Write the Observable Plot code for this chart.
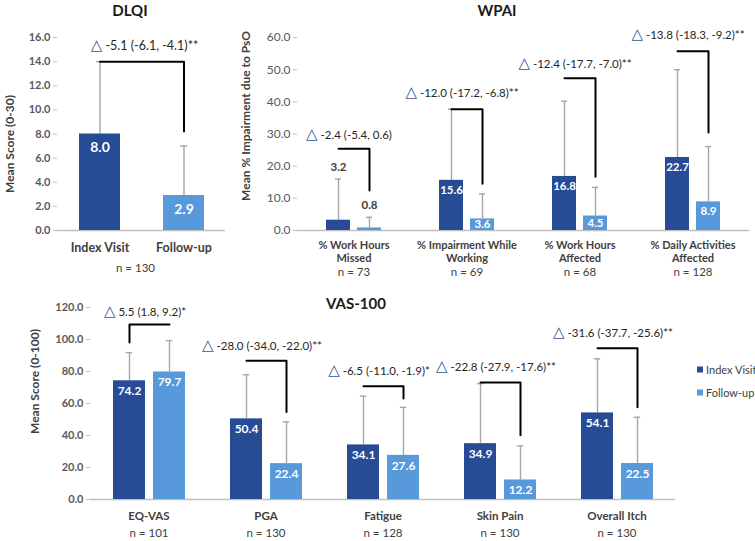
<!DOCTYPE html>
<html><head><meta charset="utf-8">
<script src="https://cdn.jsdelivr.net/npm/d3@7"></script>
<script src="https://cdn.jsdelivr.net/npm/@observablehq/plot@0.6"></script>
<style>
html,body{margin:0;padding:0;background:#fff;}
#chart{position:relative;width:755px;height:541px;overflow:hidden;font-family:Lato,"DejaVu Sans",sans-serif;color:#262626;}
#chart svg{position:absolute;overflow:visible;}
.ttl{position:absolute;font-weight:700;font-size:15px;transform:translate(-50%,-50%);white-space:nowrap;color:#1a1a1a;}
.leg{position:absolute;font-size:11px;color:#404040;display:flex;align-items:center;white-space:nowrap;transform:translateY(-50%);}
.leg i{display:inline-block;width:6px;height:6px;margin-right:3px;}
</style></head><body><div id="chart"></div>
<script>
const seriesNames = ["Index Visit", "Follow-up"];

// ---- DLQI ----
const dlqiGroups = ["DLQI"];
const dlqiIndex = [8.0];
const dlqiIndexErr = [14.0];
const dlqiFollow = [2.9];
const dlqiFollowErr = [7.0];
const dlqiN = ["n = 130"];
const dlqiDelta = ["-5.1 (-6.1, -4.1)**"];
const dlqiDeltaY = [15.3];
const dlqiBracketLeft = [14.0];
const dlqiBracketTop = [14.0];
const dlqiBracketRight = [8.2];
const dlqiTicks = [0, 2, 4, 6, 8, 10, 12, 14, 16];

// ---- WPAI ----
const wpaiGroups = ["% Work Hours Missed", "% Impairment While Working", "% Work Hours Affected", "% Daily Activities Affected"];
const wpaiLines = [["% Work Hours", "Missed"], ["% Impairment While", "Working"], ["% Work Hours", "Affected"], ["% Daily Activities", "Affected"]];
const wpaiN = ["n = 73", "n = 69", "n = 68", "n = 128"];
const wpaiIndex = [3.2, 15.6, 16.8, 22.7];
const wpaiIndexErr = [16.0, 37.7, 40.2, 50.0];
const wpaiFollow = [0.8, 3.6, 4.5, 8.9];
const wpaiFollowErr = [4.1, 11.4, 13.4, 26.1];
const wpaiDelta = ["-2.4 (-5.4, 0.6)", "-12.0 (-17.2, -6.8)**", "-12.4 (-17.7, -7.0)**", "-13.8 (-18.3, -9.2)**"];
const wpaiDeltaY = [29.5, 42.5, 51.8, 60.6];
const wpaiBracketLeft = [25.4, 37.7, 47.3, 55.7];
const wpaiBracketTop = [25.4, 37.7, 47.3, 55.7];
const wpaiBracketRight = [12.4, 14.5, 16.7, 30.5];
const wpaiTicks = [0, 10, 20, 30, 40, 50, 60];

// ---- VAS-100 ----
const vasGroups = ["EQ-VAS", "PGA", "Fatigue", "Skin Pain", "Overall Itch"];
const vasN = ["n = 101", "n = 130", "n = 128", "n = 130", "n = 130"];
const vasIndex = [74.2, 50.4, 34.1, 34.9, 54.1];
const vasIndexErr = [91.8, 78.0, 64.6, 72.4, 87.9];
const vasFollow = [79.7, 22.4, 27.6, 12.2, 22.5];
const vasFollowErr = [99.3, 48.5, 57.6, 33.5, 51.4];
const vasDelta = ["5.5 (1.8, 9.2)*", "-28.0 (-34.0, -22.0)**", "-6.5 (-11.0, -1.9)*", "-22.8 (-27.9, -17.6)**", "-31.6 (-37.7, -25.6)**"];
const vasDeltaY = [117.1, 95.8, 80.4, 82.7, 104.1];
const vasBracketLeft = [98.2, 86.7, 70.8, 73.1, 94.6];
const vasBracketTop = [109.4, 86.7, 70.8, 73.1, 94.6];
const vasBracketRight = [109.4, 54.7, 63.1, 40.2, 57.7];
const vasTicks = [0, 20, 40, 60, 80, 100, 120];

const COLORS = ["#274b95", "#5799da"];
const chart = document.getElementById("chart");

function panel(o) {
  const rows = [], br = [], grp = [];
  o.groups.forEach((g, i) => {
    rows.push({g, s: seriesNames[0], v: o.index[i], e: o.indexErr[i]});
    rows.push({g, s: seriesNames[1], v: o.follow[i], e: o.followErr[i]});
    br.push({g, s: seriesNames[0], y: o.brLeft[i]}, {g, s: seriesNames[0], y: o.brTop[i]},
            {g, s: seriesNames[1], y: o.brTop[i]}, {g, s: seriesNames[1], y: o.brRight[i]});
    grp.push({g, l1: o.lines ? o.lines[i][0] : o.groups[i], l2: o.lines ? o.lines[i][1] : "",
              n: o.n[i], d: "\u25B3 " + o.delta[i], dy: o.deltaY[i]});
  });
  const ppu = (o.height - o.mt - o.mb) / o.yMax; // pixels per unit, for label placement inside bars
  const above = d => d.v < o.aboveLimit;
  const cap = (o.bw - 7) / 2;
  const marks = [
    Plot.ruleY([0], {stroke: "#c0c0c0", strokeWidth: 1.3}),
    Plot.axisY({ticks: o.ticks, tickFormat: d => d.toFixed(1), tickSize: 4, tickPadding: 3,
      stroke: "#c0c0c0", fill: "#595959", fontWeight: o.tickWeight, fontSize: o.tickFont, line: true, label: null}),
    Plot.ruleX(rows, {fx: "g", x: "s", y1: "v", y2: "e", stroke: "#a6a6a6", strokeWidth: 1.4}),
    Plot.tickY(rows, {fx: "g", x: "s", y: "e", stroke: "#a6a6a6", strokeWidth: 1.4, insetLeft: cap, insetRight: cap}),
    Plot.barY(rows, {fx: "g", x: "s", y: "v", fill: "s"}),
    Plot.text(rows.filter(d => !above(d)), {fx: "g", x: "s", y: d => Math.max(d.v - o.valDy / ppu, d.v / 2),
      text: d => d.v.toFixed(1), fill: "white", fontWeight: "bold", fontSize: o.valFont}),
    Plot.text(rows.filter(above), {fx: "g", x: "s", y: "e", text: d => d.v.toFixed(1), dy: -12,
      fill: "#404040", fontWeight: "bold", fontSize: o.valFont}),
    Plot.line(br, {fx: "g", x: "s", y: "y", z: "g", stroke: "#000", strokeWidth: 2, curve: "linear"}),
    Plot.text(grp, {fx: "g", y: "dy", text: "d", dx: o.deltaDx, fontSize: o.deltaFont, fill: "#262626", textAnchor: "middle"}),
    Plot.text([{g: o.groups[0]}], {fx: "g", text: () => o.ytitle, frameAnchor: "left", textAnchor: "middle", rotate: -90,
      dx: o.ytDx, dy: o.ytDy, fontWeight: "bold", fontSize: o.ytFont, fill: "#404040"})
  ];
  if (o.seriesLabels) {
    marks.push(Plot.text(rows, {fx: "g", x: "s", text: "s", frameAnchor: "bottom", lineAnchor: "middle", dy: o.l1Dy,
      fontWeight: "bold", fontSize: o.catFont, fill: "#404040"}));
  } else {
    marks.push(Plot.text(grp, {fx: "g", text: "l1", frameAnchor: "bottom", lineAnchor: "middle", dy: o.l1Dy,
      fontWeight: "bold", fontSize: o.catFont, fill: "#404040"}));
    if (o.lines) marks.push(Plot.text(grp, {fx: "g", text: "l2", frameAnchor: "bottom", lineAnchor: "middle", dy: o.l2Dy,
      fontWeight: "bold", fontSize: o.catFont, fill: "#404040"}));
  }
  marks.push(Plot.text(grp, {fx: "g", text: "n", frameAnchor: "bottom", lineAnchor: "middle", dy: o.nDy, dx: o.nDx || 0,
    fontSize: o.nFont, fill: "#404040"}));

  const svg = Plot.plot({
    width: o.width, height: o.height,
    marginLeft: o.ml, marginRight: o.mr, marginTop: o.mt, marginBottom: o.mb,
    fx: {domain: o.groups, padding: 0, axis: null, label: null},
    x: {domain: seriesNames, paddingInner: o.pi, paddingOuter: o.po, axis: null, label: null},
    y: {domain: [0, o.yMax]},
    color: {domain: seriesNames, range: COLORS},
    style: {fontFamily: "Lato, 'DejaVu Sans', sans-serif", background: "transparent", overflow: "visible"},
    marks
  });
  d3.select(svg).selectAll("text").each(function () {
    const t = this.textContent;
    if (t.startsWith("\u25B3 ")) {
      const sel = d3.select(this);
      sel.text(null);
      sel.append("tspan").attr("fill", "#2f5597").attr("font-size", 15).attr("font-family", "DejaVu Sans").text("\u25B3");
      sel.append("tspan").text("\u00A0" + t.slice(2));
    }
  });
  svg.style.left = o.left + "px";
  svg.style.top = o.top + "px";
  chart.appendChild(svg);
}

panel({
  groups: dlqiGroups, index: dlqiIndex, indexErr: dlqiIndexErr, follow: dlqiFollow, followErr: dlqiFollowErr,
  n: dlqiN, delta: dlqiDelta, deltaY: dlqiDeltaY, brLeft: dlqiBracketLeft, brTop: dlqiBracketTop, brRight: dlqiBracketRight,
  ticks: dlqiTicks, yMax: 16, seriesLabels: true,
  left: 0, top: 0, width: 240, height: 280, ml: 57, mr: 15, mt: 37, mb: 50,
  pi: 0.512, po: 0.256, bw: 41, aboveLimit: 0,
  tickFont: 11, tickWeight: "bold", valFont: 14, valDy: 13.5, deltaFont: 12.5, deltaDx: 3,
  catFont: 12.5, l1Dy: 17, nFont: 11.5, nDy: 38, nDx: -6,
  ytitle: "Mean Score (0-30)", ytDx: -47, ytDy: 10, ytFont: 12
});

panel({
  groups: wpaiGroups, lines: wpaiLines, index: wpaiIndex, indexErr: wpaiIndexErr, follow: wpaiFollow, followErr: wpaiFollowErr,
  n: wpaiN, delta: wpaiDelta, deltaY: wpaiDeltaY, brLeft: wpaiBracketLeft, brTop: wpaiBracketTop, brRight: wpaiBracketRight,
  ticks: wpaiTicks, yMax: 60,
  left: 240, top: 0, width: 515, height: 280, ml: 56, mr: 5, mt: 37, mb: 50,
  pi: 0.219, po: 0.883, bw: 25, aboveLimit: 3.5,
  tickFont: 12, tickWeight: "normal", valFont: 11.5, valDy: 9.5, deltaFont: 11.5, deltaDx: -5,
  catFont: 11, l1Dy: 15, l2Dy: 28, nFont: 11.5, nDy: 42,
  ytitle: "Mean % Impairment due to PsO", ytDx: -51, ytDy: -18, ytFont: 12
});

panel({
  groups: vasGroups, index: vasIndex, indexErr: vasIndexErr, follow: vasFollow, followErr: vasFollowErr,
  n: vasN, delta: vasDelta, deltaY: vasDeltaY, brLeft: vasBracketLeft, brTop: vasBracketTop, brRight: vasBracketRight,
  ticks: vasTicks, yMax: 120,
  left: 0, top: 285, width: 755, height: 256, ml: 90, mr: 80, mt: 22, mb: 42,
  pi: 0.203, po: 0.535, bw: 32.5, aboveLimit: 0,
  tickFont: 11, tickWeight: "bold", valFont: 12, valDy: 10.5, deltaFont: 11.5, deltaDx: -4,
  catFont: 11.5, l1Dy: 17, nFont: 11.5, nDy: 34,
  ytitle: "Mean Score (0-100)", ytDx: -55, ytDy: -22, ytFont: 12
});

// Titles and legend
[["DLQI", 130, 10], ["WPAI", 497, 10], ["VAS-100", 356, 303]].forEach(([t, x, y]) => {
  const d = document.createElement("div");
  d.className = "ttl"; d.textContent = t; d.style.left = x + "px"; d.style.top = y + "px";
  chart.appendChild(d);
});
seriesNames.forEach((s, i) => {
  const d = document.createElement("div");
  d.className = "leg"; d.style.left = "697px"; d.style.top = (369 + i * 23) + "px";
  d.innerHTML = `<i style="background:${COLORS[i]}"></i>`;
  d.appendChild(document.createTextNode(s));
  chart.appendChild(d);
});
</script></body></html>
